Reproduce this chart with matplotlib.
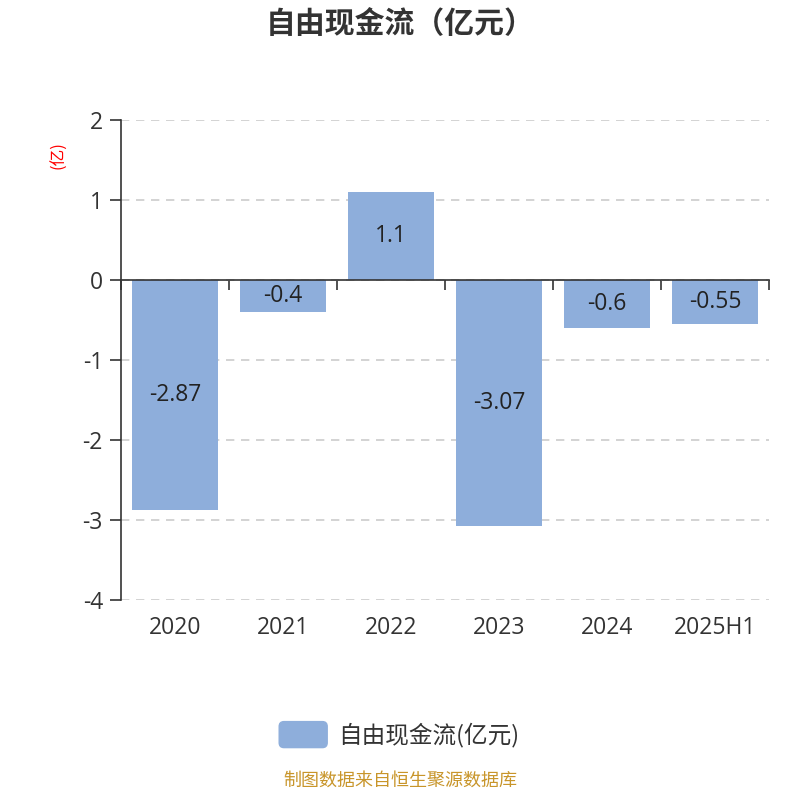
import matplotlib
matplotlib.use('Agg')
import matplotlib.pyplot as plt
from matplotlib.patches import FancyBboxPatch

plt.rcParams['font.family'] = ['Noto Sans CJK SC', 'DejaVu Sans']
plt.rcParams['axes.unicode_minus'] = False

years = ['2020', '2021', '2022', '2023', '2024', '2025H1']
fcf = [-2.87, -0.4, 1.1, -3.07, -0.6, -0.55]
fcf_labels = ['-2.87', '-0.4', '1.1', '-3.07', '-0.6', '-0.55']

bar_color = '#8eaedb'
text_color = '#333333'
axis_color = '#333333'
num_font = ['Open Sans', 'Noto Sans CJK SC']

fig = plt.figure(figsize=(8, 8), dpi=100)
ax = fig.add_axes([0.15125, 0.25, 0.81, 0.6])

x = list(range(len(years)))
ax.bar(x, fcf, width=0.8, color=bar_color, zorder=2)

for xi, v, lab in zip(x, fcf, fcf_labels):
    ax.text(xi, v / 2, lab, ha='center', va='center', fontsize=16.5, color='#222222',
            family=num_font, zorder=3)

ax.set_xlim(-0.5, len(years) - 0.5)
ax.set_ylim(-4, 2)
ax.set_yticks([-4, -3, -2, -1, 0, 1, 2])
ax.set_yticklabels(['-4', '-3', '-2', '-1', '0', '1', '2'], fontsize=16.5, color=text_color,
                   family=num_font)
ax.yaxis.grid(True, linestyle=(0, (5, 4)), color='#cccccc', linewidth=1.2, zorder=0)
ax.set_axisbelow(True)

# x axis sits on zero line; ticks at category boundaries
for s in ['top', 'right']:
    ax.spines[s].set_visible(False)
ax.spines['bottom'].set_position(('data', 0))
ax.spines['bottom'].set_color(axis_color)
ax.spines['left'].set_color(axis_color)
ax.spines['bottom'].set_linewidth(1.2)
ax.spines['left'].set_linewidth(1.2)
ax.set_xticks([i + 0.5 for i in range(-1, len(years))])
ax.set_xticklabels([])
ax.tick_params(axis='x', direction='out', length=7, color=axis_color, width=1.2)
ax.tick_params(axis='y', direction='out', length=8, color=axis_color, width=1.2, pad=5)

for xi, lab in zip(x, years):
    ax.text(xi, -4.2, lab, ha='center', va='top', fontsize=16.5, color=text_color,
            family=num_font)

fig.text(0.5, 0.97, '自由现金流（亿元）', ha='center', va='center', fontsize=21.5,
         fontweight='bold', color=text_color)
fig.text(0.073, 0.806, '(亿)', ha='center', va='center', rotation=90, fontsize=12, color='red')

# legend
fig.patches.append(FancyBboxPatch((0.349, 0.0655), 0.06, 0.0325,
                                  boxstyle='round,pad=0,rounding_size=0.006',
                                  transform=fig.transFigure, color=bar_color))
fig.text(0.4225, 0.0815, '自由现金流(亿元)', ha='left', va='center', fontsize=17, color=text_color)

fig.text(0.5, 0.0125, '制图数据来自恒生聚源数据库', ha='center', va='bottom', fontsize=13,
         color='#c8952a')

fig.savefig('out.png', dpi=100)
